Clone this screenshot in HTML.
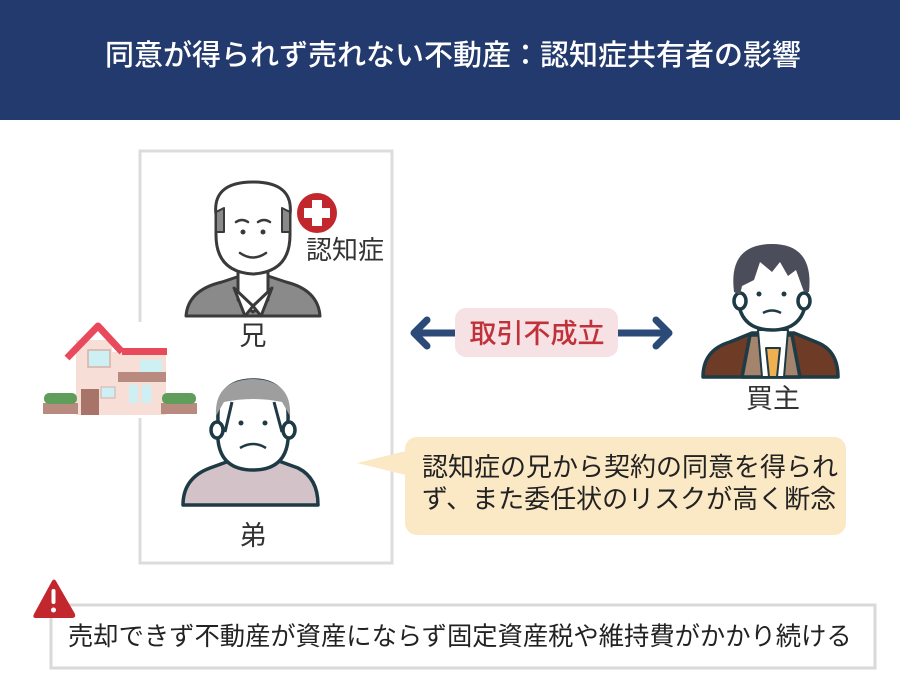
<!DOCTYPE html>
<html><head><meta charset="utf-8"><style>
html,body{margin:0;padding:0;background:#fff}
svg{display:block}
text{font-family:"Liberation Sans","Noto Sans CJK JP",sans-serif}
</style></head><body>
<svg width="900" height="700" viewBox="0 0 900 700" xmlns="http://www.w3.org/2000/svg">
<rect x="0" y="0" width="900" height="120" fill="#233a6e"/>
<text x="453" y="65" text-anchor="middle" font-size="29" fill="#fff" font-weight="500">同意が得られず売れない不動産：認知症共有者の影響</text>

<rect x="140" y="151" width="252" height="412" fill="none" stroke="#dcdcdc" stroke-width="3"/>

<!-- older brother -->
<g stroke="#3a3a3a" stroke-width="3" stroke-linejoin="round" stroke-linecap="round">
<path d="M186 316 Q188 290 222 282 L240 276 L268 276 L286 282 Q318 290 320 316 Z" fill="#8a8a8a"/>
<path d="M238 266 L238 300 L253 312 L268 300 L268 266 Z" fill="#fff"/>
<path d="M234 288 L253 306 L245 316 Z M272 288 L253 306 L261 316 Z" fill="#fff"/>
<path d="M216 215 Q212 182 253 182 Q294 182 290 215 L290 235 Q290 272 253 274 Q216 272 216 235 Z" fill="#fff"/>
<path d="M216 212 L224 208 L224 232 L216 232 Z M290 212 L282 208 L282 232 L290 232 Z" fill="#8a8a8a" stroke-width="2"/>
<path d="M236 222 Q242 218 248 222 M258 222 Q264 218 270 222" fill="none" stroke-width="2.5"/>
<path d="M240 253 Q253 262 266 253" fill="none" stroke-width="2.5"/>
</g>
<circle cx="243" cy="232" r="2.5" fill="#3a3a3a"/><circle cx="263" cy="232" r="2.5" fill="#3a3a3a"/>
<circle cx="317" cy="213" r="20" fill="#c1272d"/>
<path d="M312 200 h10 v8 h8 v10 h-8 v8 h-10 v-8 h-8 v-10 h8 z" fill="#fff"/>
<text x="345" y="259" text-anchor="middle" font-size="26" fill="#333">認知症</text>
<text x="253" y="345" text-anchor="middle" font-size="27" fill="#333">兄</text>

<!-- house -->
<rect x="38" y="322" width="130" height="96" fill="#fff"/>
<rect x="76" y="340" width="36" height="75" fill="#f7ded7"/>
<rect x="112" y="352" width="54" height="63" fill="#f7ded7"/>
<path d="M67 358 L98 326 L122 352" fill="none" stroke="#e8495b" stroke-width="7" stroke-linejoin="round"/>
<rect x="122" y="348" width="45" height="7" fill="#e8495b"/>
<rect x="88" y="350" width="22" height="17" fill="#ccf0f4" stroke="#d9b0a8" stroke-width="1.5"/>
<rect x="140" y="360" width="22" height="12" fill="#ccf0f4"/>
<rect x="118" y="372" width="48" height="10" fill="#b98a80"/>
<rect x="81" y="389" width="18" height="26" fill="#a87368"/>
<rect x="101" y="387" width="14" height="11" fill="#ccf0f4" stroke="#d9b0a8"/>
<rect x="129" y="385" width="9" height="18" fill="#ccf0f4"/><rect x="142" y="385" width="9" height="18" fill="#ccf0f4"/>
<rect x="43" y="403" width="35" height="11" fill="#b98a80"/><rect x="161" y="403" width="36" height="11" fill="#b98a80"/>
<rect x="44" y="393" width="33" height="11" rx="5" fill="#5e9e5a"/><rect x="162" y="393" width="34" height="11" rx="5" fill="#5e9e5a"/>

<!-- younger brother -->
<g stroke="#1e3a44" stroke-width="3.5" stroke-linejoin="round">
<path d="M183 505 Q183 478 210 468 L232 460 L276 460 L298 468 Q318 478 318 505 Z" fill="#d3c3c8"/>
<path d="M234 440 L234 462 Q253 474 272 462 L272 440 Z" fill="#fff"/>
<path d="M218 420 Q216 380 253 380 Q290 380 288 420 L288 440 Q285 470 253 470 Q221 470 218 440 Z" fill="#fff"/>
<ellipse cx="217" cy="430" rx="6" ry="8" fill="#fff"/><ellipse cx="289" cy="430" rx="6" ry="8" fill="#fff"/>
</g>
<path d="M216 416 Q214 380 253 379 Q292 380 290 416 L282 402 Q253 396 224 402 Z" fill="#9e9e9e"/>
<path d="M232 402 L225 432 M274 402 L282 432" stroke="#1e3a44" stroke-width="3"/>
<circle cx="241" cy="423" r="2.5" fill="#1e3a44"/><circle cx="265" cy="423" r="2.5" fill="#1e3a44"/>
<path d="M240 448 Q253 440 266 448" fill="none" stroke="#1e3a44" stroke-width="2.5"/>
<text x="253" y="545" text-anchor="middle" font-size="27" fill="#333">弟</text>

<!-- arrow -->
<g stroke="#2b4a78" stroke-width="7" fill="none" stroke-linecap="round" stroke-linejoin="round">
<path d="M414 333 L458 333 M427 320 L414 333 L427 346"/>
<path d="M615 333 L669 333 M656 320 L669 333 L656 346"/>
</g>
<rect x="455" y="308" width="163" height="49" rx="11" fill="#f6e1e4"/>
<text x="537" y="343" text-anchor="middle" font-size="27" fill="#c0313a" font-weight="500">取引不成立</text>

<!-- buyer -->
<g stroke="#1e3a44" stroke-width="3.5" stroke-linejoin="round">
<path d="M703 377 Q703 350 730 342 L752 333 L794 333 L816 342 Q838 350 838 377 Z" fill="#6e3b26"/>
<path d="M750 335 L742 377 L800 377 L792 335 Z" fill="#a5846e"/>
<path d="M758 330 L762 377 L784 377 L788 330 Z" fill="#fff" stroke-width="2"/>
<path d="M766 348 L780 348 L777 377 L769 377 Z" fill="#f0b050" stroke-width="2"/>
<path d="M738 275 Q738 248 772 248 Q806 248 806 275 L806 300 Q803 330 772 330 Q741 330 738 300 Z" fill="#fff"/>
<ellipse cx="740" cy="301" rx="6" ry="8" fill="#fff"/><ellipse cx="804" cy="301" rx="6" ry="8" fill="#fff"/>
</g>
<path d="M734 292 Q728 244 772 244 Q814 244 809 292 L804 292 L796 270 L788 276 L780 262 L772 272 L760 262 L754 280 L742 286 L740 295 Z" fill="#4b4d5a"/>
<circle cx="759" cy="294" r="2.5" fill="#1e3a44"/><circle cx="784" cy="294" r="2.5" fill="#1e3a44"/>
<path d="M763 313 Q772 308 781 313" fill="none" stroke="#1e3a44" stroke-width="2.5"/>
<text x="773" y="408" text-anchor="middle" font-size="27" fill="#333">買主</text>

<!-- speech bubble -->
<rect x="405" y="437" width="441" height="98" rx="12" fill="#fbe8c5"/>
<path d="M410 450 L357 463 L410 476 Z" fill="#fbe8c5"/>
<text x="422" y="476" font-size="26" fill="#222">認知症の兄から契約の同意を得られ</text>
<text x="422" y="508" font-size="26" fill="#222">ず、また委任状のリスクが高く断念</text>

<!-- bottom -->
<rect x="51" y="605" width="824" height="63" fill="#fff" stroke="#d9d9d9" stroke-width="3"/>
<path d="M52 581 Q54 578 56 581 L75 614 Q76 618 72 618 L36 618 Q32 618 34 614 Z" fill="#c1272d"/>
<rect x="51.5" y="589" width="4" height="15" rx="2" fill="#fff"/><circle cx="53.5" cy="610" r="2.5" fill="#fff"/>
<text x="68" y="645" font-size="25.3" fill="#222">売却できず不動産が資産にならず固定資産税や維持費がかかり続ける</text>
</svg>
</body></html>
